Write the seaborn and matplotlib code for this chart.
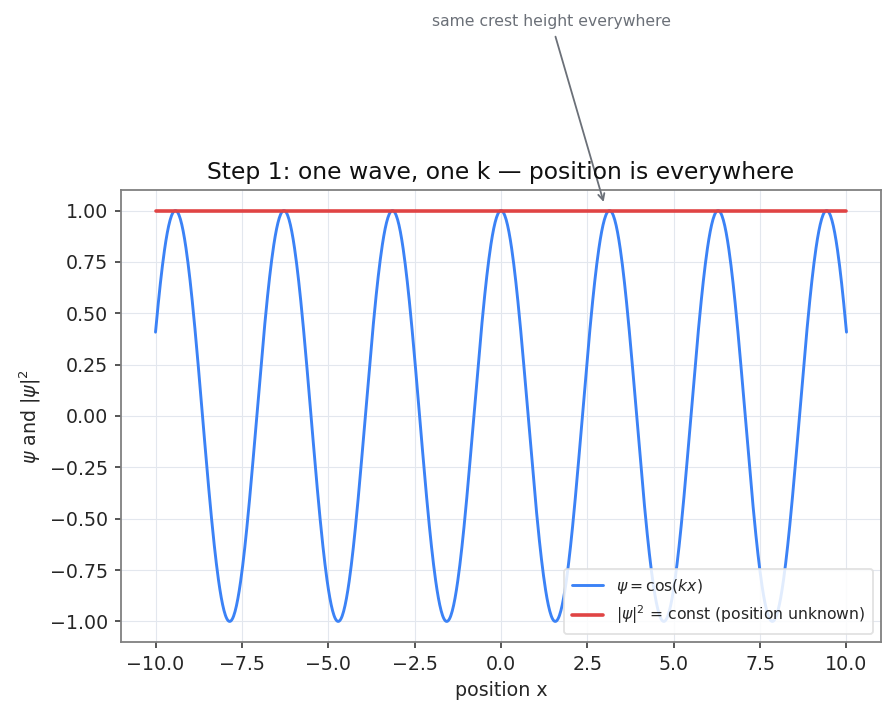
import numpy as np
import pandas as pd
import seaborn as sns
import matplotlib
matplotlib.use("Agg")
import matplotlib.pyplot as plt

# Data
k = 2.0
x_min, x_max = -10.0, 10.0
n_points = 1000
x = np.linspace(x_min, x_max, n_points)
psi = np.cos(k * x)                 # ψ = cos(kx), as labelled in the chart
prob = np.ones_like(x)              # |ψ|² = const

title = "Step 1: one wave, one k — position is everywhere"
xlabel = "position x"
ylabel = r"$\psi$ and $|\psi|^2$"
label_psi = r"$\psi = \cos(kx)$"
label_prob = r"$|\psi|^2$ = const (position unknown)"
annot_text = "same crest height everywhere"
annot_xy = (3.0, 1.025)
annot_xytext = (1.45, 1.92)

sns.set_theme(style="ticks")
plt.rcParams["font.family"] = ["DejaVu Sans"]

DPI = 130
fig = plt.figure(figsize=(894 / DPI, 716 / DPI), dpi=DPI)
ax = fig.add_axes([0.1353, 0.1034, 0.9855 - 0.1353, 0.7346 - 0.1034])

df = pd.DataFrame({"x": x, "psi": psi, "prob": prob})
sns.lineplot(data=df, x="x", y="psi", ax=ax, color="#3b82f6", lw=1.6,
             label=label_psi)
sns.lineplot(data=df, x="x", y="prob", ax=ax, color="#e04444", lw=2.0,
             label=label_prob)

ax.set_title(title, fontsize=13, color="#111111", pad=6)
ax.set_xlabel(xlabel, fontsize=10.5)
ax.set_ylabel(ylabel, fontsize=10.5)
ax.tick_params(labelsize=10.5, color="#333333", length=3.5, width=0.9)
ax.set_xlim(-11, 11)
ax.set_ylim(-1.1, 1.1)
ax.set_yticks(np.arange(-1.0, 1.01, 0.25))
ax.grid(True, color="#e3e7ee", lw=0.6)
ax.set_axisbelow(True)
for s in ax.spines.values():
    s.set_color("#808080")
    s.set_linewidth(1.0)

leg = ax.legend(loc="lower right", fontsize=8.7, framealpha=0.85,
                fancybox=True, borderpad=0.5)
leg.get_frame().set_edgecolor("#dddddd")

ax.annotate(annot_text, xy=annot_xy, xytext=annot_xytext,
            ha="center", va="center", fontsize=8.7, color="#6b7078",
            arrowprops=dict(arrowstyle="->", color="#6b7078", lw=1.0))

fig.savefig("out.png", dpi=DPI)
